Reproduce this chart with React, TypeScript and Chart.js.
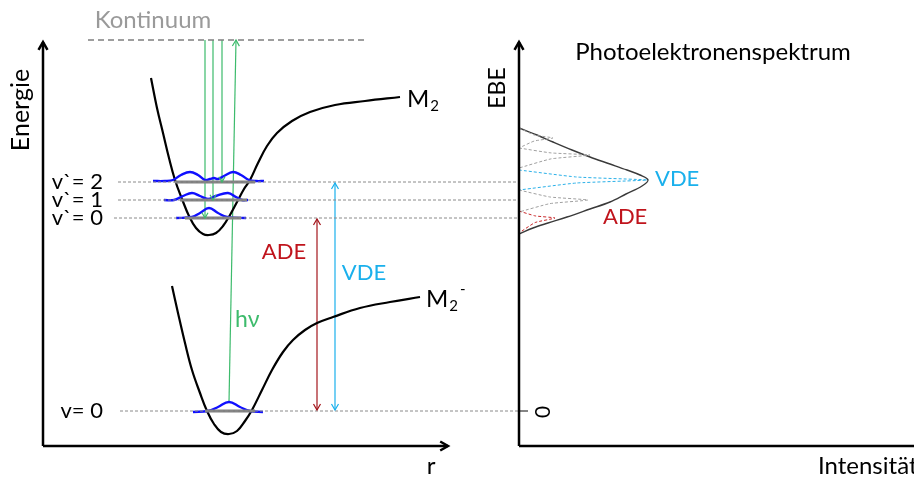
import React, { useEffect, useRef } from 'react';
import { Chart, registerables } from 'chart.js';

Chart.register(...registerables);

type P = [number, number];

// ---- Data (diagram coordinates: x = internuclear distance r / intensity, y = energy, top = high) ----
// Neutral potential curve M2
const neutralCurve: P[] = [
  [151, 78], [157, 108], [163, 133], [169, 158], [175, 180], [182, 199], [189, 216],
  [196, 228], [203, 234], [209, 235], [216, 233], [223, 226], [230, 215], [237, 202],
  [244, 189], [250, 180], [258, 163], [267, 146], [277, 133], [292, 121], [310, 112],
  [335, 105], [365, 101], [400, 97],
];
// Anion potential curve M2-
const anionCurve: P[] = [
  [172, 286], [178, 313], [185, 343], [192, 370], [200, 393], [207, 411], [214, 424],
  [221, 432], [229, 434], [237, 431], [245, 421], [252, 410], [262, 390], [272, 370],
  [283, 352], [293, 340], [305, 330], [317, 323], [333, 317], [360, 308], [390, 302], [420, 297],
];

// Vibrational levels
const neutralLevelNames = ['v`= 2', 'v`= 1', 'v`= 0'];
const neutralLevelE = [182, 200, 218];
const anionLevelName = 'v= 0';
const anionLevelE = 411;

// Vibrational wave functions (|ψ|² drawn on the levels)
const waveNeutral2: P[] = [
  [153, 181], [165, 181], [173, 180], [181, 175], [190, 172], [198, 175], [205, 180],
  [210, 179], [214, 178], [218, 179], [224, 176], [233, 172], [241, 175], [249, 180], [256, 181], [264, 181],
];
const waveNeutral1: P[] = [
  [164, 200], [174, 200], [183, 196], [192, 193], [200, 196], [208, 199], [216, 196],
  [228, 193], [236, 197], [242, 200], [248, 200],
];
const waveNeutral0: P[] = [
  [176, 218], [192, 217], [200, 213], [209, 208], [218, 213], [227, 217], [246, 218],
];
const waveAnion0: P[] = [
  [193, 412], [208, 411], [218, 407], [229, 402], [240, 407], [250, 411], [263, 412],
];

// Level bars (r range between potential walls)
const neutralBarR: P[] = [[175, 255], [180, 247], [185, 241]];
const anionBarR: P = [205, 255];

// Energy-axis extent of dashed level lines
const levelLineStart = [118, 118, 114];
const anionLineStart = 120;
const spectrumAxisX = 519;

// Continuum
const continuumE = 40;
const continuumR: P = [88, 367];

// Photodetachment transitions (r at anion, r at continuum) and target levels
const detachR = [205, 213, 222];
const hvArrow: P[] = [[229, 402], [236, 40]];

// Energy difference arrows
const adeR = 317;
const vdeR = 335;

// Photoelectron spectrum: envelope (intensity, EBE)
const envelope: P[] = [
  [519, 128], [537, 135], [553, 142], [572, 150], [590, 157], [610, 164], [627, 170],
  [640, 175], [648, 180], [642, 186], [626, 194], [610, 202], [590, 209], [567, 217],
  [548, 223], [533, 228], [519, 234],
];
// Individual vibrational peaks: EBE of peak, intensity at peak, EBE span
const peakE = [138, 155, 180, 200, 218];
const peakI = [553, 590, 647, 588, 555];
const peakColors = ['#a0a0a0', '#a0a0a0', '#2ab0e8', '#a0a0a0', '#c8282a'];
const peakBase: P[] = [[128, 148], [148, 168], [170, 190], [190, 212], [211, 233]];

const FONT = 'Lato, "Open Sans", sans-serif';
const GREEN = '#3dbb6c';
const RED = '#c0141c';
const CYAN = '#1ab0ec';
const BLUE = '#1010ff';

const pts = (a: P[]) => a.map(([x, y]) => ({ x, y }));

type Label = {
  text: string; x: number; y: number; color?: string; size?: number;
  align?: CanvasTextAlign; rotate?: boolean; sub?: string; sup?: string;
};

const labels: Label[] = [
  { text: 'Kontinuum', x: 153, y: 20, color: '#9a9a9a', size: 24, align: 'center' },
  { text: 'Energie', x: 21, y: 110, size: 25, rotate: true },
  { text: 'r', x: 431, y: 466, size: 24, align: 'center' },
  { text: 'M', x: 407, y: 99, size: 24, align: 'left', sub: '2' },
  { text: 'M', x: 426, y: 299, size: 24, align: 'left', sub: '2', sup: '-' },
  { text: 'hν', x: 235, y: 320, size: 23, color: GREEN, align: 'left' },
  { text: 'ADE', x: 284, y: 252, size: 22, color: RED, align: 'center' },
  { text: 'VDE', x: 364, y: 273, size: 22, color: CYAN, align: 'center' },
  { text: 'EBE', x: 498, y: 88, size: 23, rotate: true },
  { text: 'Photoelektronenspektrum', x: 713, y: 52, size: 24, align: 'center' },
  { text: 'Intensität', x: 818, y: 466, size: 24, align: 'left' },
  { text: 'VDE', x: 655, y: 179, size: 22, color: CYAN, align: 'left' },
  { text: 'ADE', x: 603, y: 217, size: 22, color: RED, align: 'left' },
  { text: '0', x: 543, y: 412, size: 21, rotate: true },
];

export default function App() {
  const ref = useRef<HTMLCanvasElement | null>(null);

  useEffect(() => {
    if (!ref.current) return;
    const datasets: any[] = [];
    const line = (data: P[], color: string, width: number, extra: any = {}) =>
      datasets.push({
        data: pts(data), borderColor: color, borderWidth: width, showLine: true,
        pointRadius: 0, fill: false, clip: false, tension: 0, ...extra,
      });

    // axes
    line([[43, 446], [43, 42]], '#000', 2.5, { arrow: 'end', head: 9 });
    line([[43, 446], [448, 446]], '#000', 2.5, { arrow: 'end', head: 9 });
    line([[spectrumAxisX, 446], [spectrumAxisX, 42]], '#000', 2.5, { arrow: 'end', head: 9 });
    line([[spectrumAxisX, 446], [916, 446]], '#000', 2.5);

    // continuum
    line([[continuumR[0], continuumE], [continuumR[1], continuumE]], '#7f7f7f', 1.5, { borderDash: [6, 4] });

    // dashed level lines
    neutralLevelE.forEach((e, i) =>
      line([[levelLineStart[i], e], [spectrumAxisX, e]], '#8a8a8a', 1, { borderDash: [3, 2] }));
    line([[anionLineStart, anionLevelE], [spectrumAxisX, anionLevelE]], '#8a8a8a', 1, { borderDash: [3, 2] });
    line([[spectrumAxisX, anionLevelE], [528, anionLevelE]], '#333', 1.2);

    // level bars
    neutralLevelE.forEach((e, i) =>
      line([[neutralBarR[i][0], e], [neutralBarR[i][1], e]], '#808080', 3));
    line([[anionBarR[0], anionLevelE], [anionBarR[1], anionLevelE]], '#808080', 3);

    // wave functions
    [waveNeutral2, waveNeutral1, waveNeutral0, waveAnion0].forEach((w) =>
      line(w, BLUE, 2.4, { tension: 0.4 }));

    // potential curves
    line(neutralCurve, '#000', 2.2, { tension: 0.4 });
    line(anionCurve, '#000', 2.2, { tension: 0.4 });

    // transitions
    detachR.forEach((r, i) =>
      line([[r, continuumE], [r, neutralLevelE[2 - i]]], GREEN, 1.2, { arrow: 'end', head: 6 }));
    line(hvArrow, GREEN, 1.2, { arrow: 'end', head: 7 });

    // ADE / VDE arrows
    line([[adeR, anionLevelE - 1], [adeR, neutralLevelE[2] + 1]], '#a3151b', 1.2, { arrow: 'both', head: 7 });
    line([[vdeR, anionLevelE - 1], [vdeR, neutralLevelE[0] + 1]], CYAN, 1.2, { arrow: 'both', head: 7 });

    // spectrum peaks
    peakE.forEach((e, i) => {
      const [a, b] = peakBase[i];
      const w = peakI[i] - spectrumAxisX;
      const p: P[] = [
        [spectrumAxisX, a], [spectrumAxisX + w * 0.45, (a + e) / 2 + (e - a) * 0.2],
        [peakI[i], e], [spectrumAxisX + w * 0.45, (b + e) / 2 - (b - e) * 0.2], [spectrumAxisX, b],
      ];
      line(p, peakColors[i], 1, { borderDash: [3, 2], tension: 0.15 });
    });
    line(envelope, '#3a3a3a', 1.4, { tension: 0.35 });

    const arrowPlugin = {
      id: 'arrows',
      afterDatasetsDraw(chart: any) {
        const ctx = chart.ctx;
        const xs = chart.scales.x, ys = chart.scales.y;
        chart.data.datasets.forEach((ds: any) => {
          if (!ds.arrow) return;
          const d = ds.data;
          const head = (p: any, q: any) => {
            const x1 = xs.getPixelForValue(p.x), y1 = ys.getPixelForValue(p.y);
            const x2 = xs.getPixelForValue(q.x), y2 = ys.getPixelForValue(q.y);
            const ang = Math.atan2(y2 - y1, x2 - x1);
            const L = ds.head || 7, a = Math.PI / 6;
            ctx.save();
            ctx.strokeStyle = ds.borderColor;
            ctx.lineWidth = ds.borderWidth;
            ctx.beginPath();
            ctx.moveTo(x2 - L * Math.cos(ang - a), y2 - L * Math.sin(ang - a));
            ctx.lineTo(x2, y2);
            ctx.lineTo(x2 - L * Math.cos(ang + a), y2 - L * Math.sin(ang + a));
            ctx.stroke();
            ctx.restore();
          };
          head(d[d.length - 2], d[d.length - 1]);
          if (ds.arrow === 'both') head(d[1], d[0]);
        });
      },
    };

    const textPlugin = {
      id: 'texts',
      afterDraw(chart: any) {
        const ctx = chart.ctx;
        const xs = chart.scales.x, ys = chart.scales.y;
        const draw = (l: Label) => {
          const x = xs.getPixelForValue(l.x), y = ys.getPixelForValue(l.y);
          const size = l.size || 20;
          ctx.save();
          ctx.fillStyle = l.color || '#000';
          ctx.font = `${size}px ${FONT}`;
          ctx.textBaseline = 'middle';
          ctx.textAlign = l.align || 'center';
          ctx.translate(x, y);
          if (l.rotate) ctx.rotate(-Math.PI / 2);
          ctx.fillText(l.text, 0, 0);
          if (l.sub || l.sup) {
            const w = ctx.measureText(l.text).width;
            ctx.font = `${Math.round(size * 0.62)}px ${FONT}`;
            ctx.textAlign = 'left';
            if (l.sub) ctx.fillText(l.sub, w + 1, size * 0.3);
            if (l.sup) {
              const sw = l.sub ? ctx.measureText(l.sub).width : 0;
              ctx.fillText(l.sup, w + sw + 3, -size * 0.4);
            }
          }
          ctx.restore();
        };
        labels.forEach(draw);
        neutralLevelNames.forEach((n, i) =>
          draw({ text: n, x: 103, y: neutralLevelE[i], size: 22, align: 'right' }));
        draw({ text: anionLevelName, x: 103, y: anionLevelE, size: 22, align: 'right' });
      },
    };

    const chart = new Chart(ref.current, {
      type: 'scatter',
      data: { datasets },
      options: {
        animation: false,
        responsive: false,
        maintainAspectRatio: false,
        devicePixelRatio: 1,
        layout: { padding: 0 },
        plugins: { legend: { display: false }, tooltip: { enabled: false } },
        events: [],
        scales: {
          x: { type: 'linear', min: 0, max: 914, display: false },
          y: { type: 'linear', min: 0, max: 480, reverse: true, display: false },
        },
      },
      plugins: [arrowPlugin, textPlugin],
    });
    return () => chart.destroy();
  }, []);

  return (
    <div style={{ position: 'fixed', left: 0, top: 0, width: 914, height: 480, background: '#fff' }}>
      <canvas ref={ref} width={914} height={480} />
    </div>
  );
}
